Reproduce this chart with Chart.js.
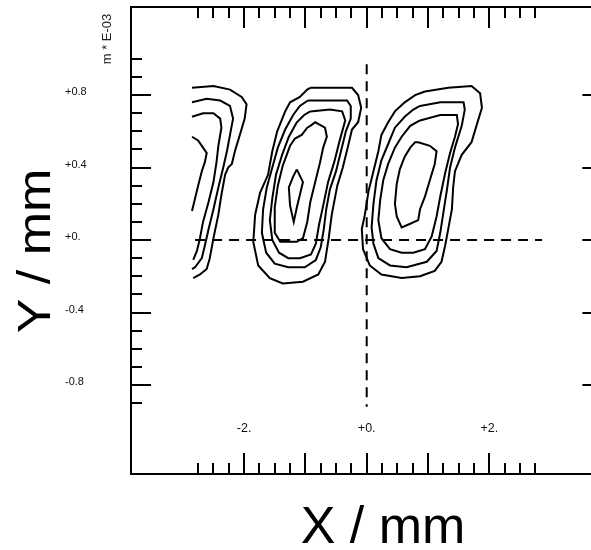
<!DOCTYPE html>
<html>
<head>
<meta charset="utf-8">
<script src="https://cdn.jsdelivr.net/npm/chart.js@4/dist/chart.umd.min.js"></script>
<style>
  html, body { margin: 0; padding: 0; background: #fff; overflow: hidden; }
</style>
</head>
<body>
<canvas id="myChart" width="591" height="550"></canvas>
<script>
// tick values and labels
const xMajorTicks = [-2, -1, 0, 1, 2]
const xMinorTicks = [-2.75, -2.5, -2.25, -1.75, -1.5, -1.25, -0.75, -0.5, -0.25, 0.25, 0.5, 0.75, 1.25, 1.5, 1.75, 2.25, 2.5, 2.75]
const xLabelValues = [-2, 0, 2]
const xTickLabels = ['-2.', '+0.', '+2.']
const yMajorTicks = [-0.8, -0.4, 0, 0.4, 0.8]
const yMinorTicks = [-0.9, -0.7, -0.6, -0.5, -0.3, -0.2, -0.1, 0.1, 0.2, 0.3, 0.5, 0.6, 0.7, 0.9, 1.0]
const yTickLabels = ['-0.8', '-0.4', '+0.', '+0.4', '+0.8']

// contour lines (x, y in mm)
const leftContour1 = [[-2.85, 0.84], [-2.50, 0.85], [-2.23, 0.83], [-2.04, 0.79], [-1.96, 0.75], [-1.99, 0.67], [-2.07, 0.58], [-2.15, 0.49], [-2.20, 0.42], [-2.26, 0.40], [-2.31, 0.36], [-2.37, 0.25], [-2.42, 0.14], [-2.50, 0.01], [-2.56, -0.10], [-2.61, -0.16], [-2.72, -0.19], [-2.83, -0.21]]
const leftContour2 = [[-2.85, 0.76], [-2.61, 0.78], [-2.39, 0.77], [-2.23, 0.74], [-2.18, 0.67], [-2.23, 0.58], [-2.28, 0.49], [-2.34, 0.40], [-2.42, 0.29], [-2.50, 0.17], [-2.58, 0.06], [-2.64, -0.03], [-2.69, -0.10], [-2.80, -0.15], [-2.85, -0.16]]
const leftContour3 = [[-2.85, 0.68], [-2.67, 0.70], [-2.50, 0.70], [-2.39, 0.67], [-2.37, 0.62], [-2.42, 0.52], [-2.45, 0.43], [-2.50, 0.32], [-2.58, 0.21], [-2.67, 0.10], [-2.72, 0.01], [-2.77, -0.06], [-2.83, -0.11]]
const leftContour4 = [[-2.85, 0.57], [-2.75, 0.55], [-2.67, 0.51], [-2.61, 0.48], [-2.64, 0.43], [-2.69, 0.38], [-2.75, 0.30], [-2.80, 0.23], [-2.85, 0.16]]

const midContour1 = [[-0.92, 0.84], [-0.65, 0.84], [-0.24, 0.84], [-0.14, 0.80], [-0.09, 0.73], [-0.14, 0.65], [-0.24, 0.61], [-0.31, 0.51], [-0.39, 0.40], [-0.48, 0.30], [-0.57, 0.14], [-0.62, 0.01], [-0.68, -0.12], [-0.79, -0.19], [-1.04, -0.23], [-1.37, -0.24], [-1.58, -0.21], [-1.77, -0.14], [-1.85, -0.01], [-1.82, 0.14], [-1.74, 0.26], [-1.61, 0.36], [-1.54, 0.49], [-1.46, 0.60], [-1.33, 0.71], [-1.25, 0.76], [-1.09, 0.79], [-0.97, 0.83], [-0.92, 0.84]]
const midContour2 = [[-0.96, 0.77], [-0.60, 0.77], [-0.32, 0.77], [-0.26, 0.74], [-0.26, 0.67], [-0.34, 0.60], [-0.42, 0.49], [-0.50, 0.38], [-0.60, 0.28], [-0.66, 0.17], [-0.70, 0.06], [-0.75, -0.04], [-0.83, -0.11], [-1.01, -0.15], [-1.28, -0.15], [-1.50, -0.13], [-1.64, -0.07], [-1.71, 0.04], [-1.69, 0.17], [-1.63, 0.29], [-1.54, 0.40], [-1.45, 0.51], [-1.33, 0.61], [-1.20, 0.69], [-1.09, 0.74], [-0.96, 0.77]]
const midContour3 = [[-0.92, 0.71], [-0.60, 0.72], [-0.40, 0.71], [-0.35, 0.66], [-0.44, 0.55], [-0.53, 0.43], [-0.63, 0.32], [-0.71, 0.19], [-0.78, 0.08], [-0.83, -0.02], [-0.91, -0.08], [-1.09, -0.10], [-1.28, -0.10], [-1.43, -0.07], [-1.54, 0.00], [-1.58, 0.11], [-1.54, 0.23], [-1.48, 0.36], [-1.38, 0.47], [-1.27, 0.57], [-1.14, 0.65], [-1.02, 0.69], [-0.92, 0.71]]
const midContour4 = [[-0.92, 0.63], [-0.84, 0.65], [-0.68, 0.62], [-0.65, 0.57], [-0.71, 0.51], [-0.76, 0.43], [-0.84, 0.32], [-0.92, 0.21], [-0.97, 0.10], [-1.04, 0.01], [-1.14, -0.01], [-1.41, -0.01], [-1.50, 0.04], [-1.50, 0.18], [-1.45, 0.30], [-1.37, 0.41], [-1.25, 0.52], [-1.17, 0.56], [-1.06, 0.58], [-0.97, 0.62], [-0.92, 0.63]]
const midContour5 = [[-1.14, 0.39], [-1.04, 0.32], [-1.09, 0.25], [-1.14, 0.18], [-1.19, 0.10], [-1.25, 0.19], [-1.27, 0.29], [-1.20, 0.35], [-1.14, 0.39]]

const rightContour1 = [[0.95, 0.82], [1.33, 0.84], [1.71, 0.85], [1.85, 0.81], [1.88, 0.73], [1.79, 0.63], [1.71, 0.54], [1.55, 0.47], [1.44, 0.38], [1.41, 0.29], [1.39, 0.17], [1.33, 0.06], [1.28, -0.03], [1.22, -0.12], [1.11, -0.17], [0.87, -0.20], [0.57, -0.21], [0.24, -0.19], [0.05, -0.14], [-0.06, -0.05], [-0.08, 0.06], [-0.03, 0.14], [0.03, 0.27], [0.11, 0.38], [0.19, 0.49], [0.24, 0.58], [0.35, 0.65], [0.46, 0.71], [0.62, 0.76], [0.79, 0.80], [0.95, 0.82]]
const rightContour2 = [[0.87, 0.74], [1.20, 0.76], [1.58, 0.76], [1.60, 0.72], [1.55, 0.63], [1.44, 0.51], [1.36, 0.40], [1.31, 0.28], [1.25, 0.15], [1.20, 0.04], [1.14, -0.06], [0.98, -0.12], [0.65, -0.15], [0.38, -0.14], [0.19, -0.10], [0.11, -0.02], [0.08, 0.07], [0.11, 0.20], [0.16, 0.33], [0.24, 0.44], [0.35, 0.53], [0.46, 0.62], [0.62, 0.68], [0.76, 0.72], [0.87, 0.74]]
const rightContour3 = [[0.87, 0.66], [1.20, 0.69], [1.47, 0.69], [1.49, 0.64], [1.44, 0.57], [1.36, 0.48], [1.28, 0.37], [1.20, 0.24], [1.14, 0.13], [1.06, 0.02], [0.95, -0.05], [0.76, -0.07], [0.57, -0.07], [0.38, -0.05], [0.24, 0.01], [0.19, 0.11], [0.22, 0.22], [0.27, 0.33], [0.35, 0.42], [0.46, 0.51], [0.57, 0.57], [0.71, 0.63], [0.87, 0.66]]
const rightContour4 = [[0.84, 0.54], [1.03, 0.52], [1.14, 0.49], [1.11, 0.42], [1.03, 0.33], [0.95, 0.24], [0.87, 0.17], [0.84, 0.11], [0.71, 0.09], [0.57, 0.07], [0.49, 0.13], [0.46, 0.20], [0.49, 0.31], [0.54, 0.39], [0.62, 0.46], [0.71, 0.51], [0.79, 0.54], [0.84, 0.54]]

// dashed axis lines through the origin
const hAxisLine = [[-2.8, 0], [2.86, 0]]
const vAxisLine = [[0, 0.97], [0, -0.92]]

const contours = [leftContour1, leftContour2, leftContour3, leftContour4,
    midContour1, midContour2, midContour3, midContour4, midContour5,
    rightContour1, rightContour2, rightContour3, rightContour4]

const toPoints = arr => arr.map(p => ({ x: p[0], y: p[1] }))

const datasets = contours.map(c => ({
    data: toPoints(c),
    showLine: true,
    borderColor: '#000',
    borderWidth: 2,
    pointRadius: 0,
    fill: false
}))
datasets.push(...[hAxisLine, vAxisLine].map(l => ({
    data: toPoints(l),
    showLine: true,
    borderColor: '#000',
    borderWidth: 2,
    borderDash: [10, 7],
    pointRadius: 0,
    fill: false
})))

const frameRight = 3.845
const xLabelY = -1.04

const framePlugin = {
    id: 'frame',
    afterDraw(chart) {
        const { ctx, chartArea: a, scales: { x, y } } = chart
        const right = x.getPixelForValue(frameRight)
        ctx.save()
        ctx.strokeStyle = '#000'
        ctx.lineWidth = 2
        ctx.beginPath()
        ctx.moveTo(right, a.top)
        ctx.lineTo(a.left, a.top)
        ctx.lineTo(a.left, a.bottom)
        ctx.lineTo(right, a.bottom)
        ctx.stroke()

        ctx.beginPath()
        const xTick = (v, len) => {
            const px = Math.round(x.getPixelForValue(v))
            ctx.moveTo(px, a.top); ctx.lineTo(px, a.top + len)
            ctx.moveTo(px, a.bottom); ctx.lineTo(px, a.bottom - len)
        }
        xMajorTicks.forEach(v => xTick(v, 21))
        xMinorTicks.forEach(v => xTick(v, 11))
        yMajorTicks.forEach(v => {
            const py = Math.round(y.getPixelForValue(v))
            ctx.moveTo(a.left, py); ctx.lineTo(a.left + 20, py)
            ctx.moveTo(right, py); ctx.lineTo(right - 20, py)
        })
        yMinorTicks.forEach(v => {
            const py = Math.round(y.getPixelForValue(v))
            ctx.moveTo(a.left, py); ctx.lineTo(a.left + 11, py)
        })
        ctx.stroke()

        ctx.fillStyle = '#111'
        ctx.font = '12.5px "Liberation Sans", Arial, sans-serif'
        ctx.textAlign = 'center'
        ctx.textBaseline = 'middle'
        xLabelValues.forEach((v, i) => {
            ctx.fillText(xTickLabels[i], x.getPixelForValue(v), y.getPixelForValue(xLabelY))
        })
        ctx.font = '11px "Liberation Sans", Arial, sans-serif'
        ctx.textAlign = 'left'
        yMajorTicks.forEach((v, i) => {
            ctx.fillText(yTickLabels[i], a.left - 66, y.getPixelForValue(v) - 3)
        })

        // axis titles
        ctx.fillStyle = '#000'
        ctx.font = '52px "Liberation Sans", Arial, sans-serif'
        ctx.textAlign = 'center'
        ctx.textBaseline = 'alphabetic'
        ctx.fillText('X / mm', a.left + 252, a.bottom + 69)

        ctx.save()
        ctx.translate(a.left - 81, 251)
        ctx.rotate(-Math.PI / 2)
        ctx.scale(1, 0.88)
        ctx.fillText('Y / mm', 0, 0)
        ctx.restore()

        ctx.save()
        ctx.translate(a.left - 20, 39)
        ctx.rotate(-Math.PI / 2)
        ctx.font = '13px "Liberation Sans", Arial, sans-serif'
        ctx.fillStyle = '#222'
        ctx.fillText('m * E-03', 0, 0)
        ctx.restore()

        ctx.restore()
    }
}

const ctx1 = document.getElementById('myChart')
const myChart = new Chart(ctx1, {
    type: 'scatter',
    data: { datasets: datasets },
    options: {
        responsive: false,
        animation: false,
        layout: { padding: { left: 131, top: 7, right: 0, bottom: 76 } },
        scales: {
            x: { type: 'linear', min: -3.845, max: 3.659, display: false },
            y: { type: 'linear', min: -1.291, max: 1.286, display: false }
        },
        plugins: {
            legend: { display: false },
            tooltip: { enabled: false }
        }
    },
    plugins: [framePlugin]
})
</script>
</body>
</html>
